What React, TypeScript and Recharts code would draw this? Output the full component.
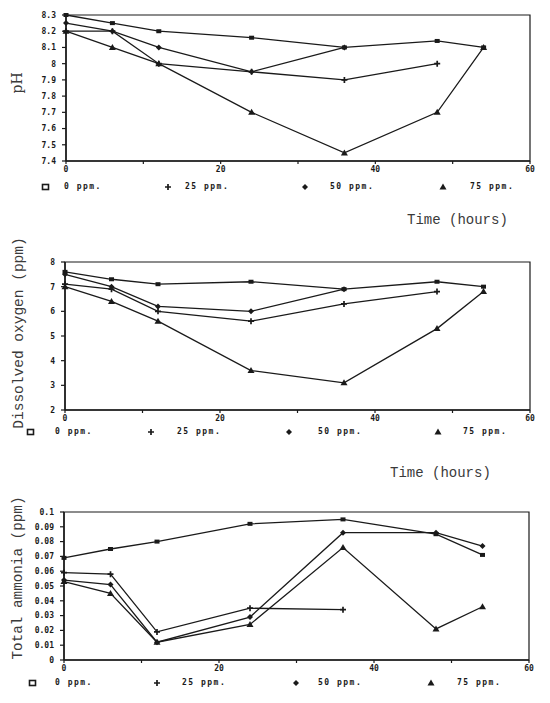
import { LineChart, Line, XAxis, YAxis, ReferenceArea, Legend } from 'recharts';

const HOURS = [0, 6, 12, 24, 36, 48, 54];
const SERIES_NAMES = ['0 ppm.', '25 ppm.', '50 ppm.', '75 ppm.'];
const X_TICKS = [0, 10, 20, 30, 40, 50, 60];

// pH
const PH_0 = [8.3, 8.25, 8.2, 8.16, 8.1, 8.14, 8.1];
const PH_25 = [8.2, 8.2, 8.0, 7.95, 7.9, 8.0, null];
const PH_50 = [8.25, 8.2, 8.1, 7.95, 8.1, null, null];
const PH_75 = [8.2, 8.1, 8.0, 7.7, 7.45, 7.7, 8.1];
const PH_TICKS = [7.4, 7.5, 7.6, 7.7, 7.8, 7.9, 8.0, 8.1, 8.2, 8.3];

// dissolved oxygen
const DO_0 = [7.6, 7.3, 7.1, 7.2, 6.9, 7.2, 7.0];
const DO_25 = [7.1, 6.9, 6.0, 5.6, 6.3, 6.8, null];
const DO_50 = [7.5, 7.0, 6.2, 6.0, 6.9, null, null];
const DO_75 = [7.0, 6.4, 5.6, 3.6, 3.1, 5.3, 6.8];
const DO_TICKS = [2, 3, 4, 5, 6, 7, 8];

// total ammonia
const AM_0 = [0.069, 0.075, 0.08, 0.092, 0.095, 0.085, 0.071];
const AM_25 = [0.059, 0.058, 0.019, 0.035, 0.034, null, null];
const AM_50 = [0.054, 0.051, 0.012, 0.029, 0.086, 0.086, 0.077];
const AM_75 = [0.053, 0.045, 0.012, 0.024, 0.076, 0.021, 0.036];
const AM_TICKS = [0, 0.01, 0.02, 0.03, 0.04, 0.05, 0.06, 0.07, 0.08, 0.09, 0.1];

const TICK_FONT = "'DejaVu Sans Mono', monospace";
const TITLE_FONT = "'Liberation Mono', monospace";
const INK = '#1a1a1a';

const buildRows = (s0, s25, s50, s75) =>
  HOURS.map((t, i) => ({ t, s0: s0[i], s25: s25[i], s50: s50[i], s75: s75[i] }));

const Marker = ({ shape, x, y }) => {
  if (shape === 'square') return <rect x={x - 2.5} y={y - 2} width={5} height={4} fill={INK} />;
  if (shape === 'plus')
    return <path d={`M${x - 3},${y}H${x + 3}M${x},${y - 3}V${y + 3}`} stroke={INK} strokeWidth={1.7} />;
  if (shape === 'diamond')
    return <polygon points={`${x},${y - 3} ${x + 3},${y} ${x},${y + 3} ${x - 3},${y}`} fill={INK} />;
  return <polygon points={`${x},${y - 3.5} ${x + 3.5},${y + 2.5} ${x - 3.5},${y + 2.5}`} fill={INK} />;
};

const makeDot = (shape) => (props) => {
  const { cx, cy, index } = props;
  if (cx == null || cy == null) return <g key={`e-${index}`} />;
  return (
    <g key={`${shape}-${index}`}>
      <Marker shape={shape} x={cx} y={cy} />
    </g>
  );
};

const SHAPES = ['square', 'plus', 'diamond', 'triangle'];
const KEYS = ['s0', 's25', 's50', 's75'];

const LegendRow = ({ markerX, textX }) => (
  <div style={{ position: 'relative', width: 550, height: 16 }}>
    {SERIES_NAMES.map((name, i) => (
      <div key={name}>
        <svg
          width={10}
          height={10}
          style={{ position: 'absolute', left: markerX[i] - 5, top: 3 }}
        >
          {i === 0 ? (
            <rect x={1.5} y={2.5} width={6} height={5} fill="none" stroke={INK} strokeWidth={1.6} />
          ) : (
            <Marker shape={SHAPES[i]} x={5} y={5} />
          )}
        </svg>
        <span
          style={{
            position: 'absolute',
            left: textX[i],
            top: 2,
            fontFamily: TICK_FONT,
            fontSize: 8,
            fontWeight: 'bold',
            letterSpacing: 1.5,
            lineHeight: '12px',
            color: INK,
            whiteSpace: 'nowrap',
          }}
        >
          {name}
        </span>
      </div>
    ))}
  </div>
);

const Panel = ({
  top,
  rows,
  domain,
  ticks,
  format,
  marginTop,
  plotHeight,
  axisHeight,
  left,
  right,
  markerX,
  textX,
}) => {
  const tickStyle = { fontFamily: TICK_FONT, fontSize: 8, fontWeight: 'bold', fill: INK };
  return (
    <div style={{ position: 'absolute', left: 0, top }}>
      <LineChart
        width={550}
        height={marginTop + plotHeight + axisHeight + 16}
        data={rows}
        margin={{ top: marginTop, right, bottom: 0, left: 0 }}
      >
        <XAxis
          dataKey="t"
          type="number"
          domain={[0, 60]}
          ticks={X_TICKS}
          interval={0}
          tickFormatter={(v) => (v % 20 === 0 ? String(v) : '')}
          height={axisHeight}
          tickSize={3}
          tickMargin={2}
          tick={tickStyle}
          axisLine={{ stroke: INK, strokeWidth: 1.5 }}
          tickLine={{ stroke: INK, strokeWidth: 1.2 }}
        />
        <YAxis
          type="number"
          domain={domain}
          ticks={ticks}
          interval={0}
          tickFormatter={format}
          width={left}
          tickSize={4}
          tickMargin={6}
          tick={tickStyle}
          axisLine={{ stroke: INK, strokeWidth: 1.5 }}
          tickLine={{ stroke: INK, strokeWidth: 1.2 }}
        />
        <ReferenceArea
          x1={0}
          x2={60}
          y1={domain[0]}
          y2={domain[1]}
          fill="none"
          stroke={INK}
          strokeWidth={1.2}
          ifOverflow="visible"
        />
        {KEYS.map((k, i) => (
          <Line
            key={k}
            dataKey={k}
            name={SERIES_NAMES[i]}
            stroke={INK}
            strokeWidth={1.3}
            dot={makeDot(SHAPES[i])}
            activeDot={false}
            isAnimationActive={false}
          />
        ))}
        <Legend
          verticalAlign="bottom"
          align="left"
          height={16}
          wrapperStyle={{ left: 0, width: 550 }}
          content={() => <LegendRow markerX={markerX} textX={textX} />}
        />
      </LineChart>
    </div>
  );
};

const RotTitle = ({ text, x, y, font, size }) => (
  <div
    style={{
      position: 'absolute',
      left: x,
      top: y,
      transform: 'translate(-50%, -50%) rotate(-90deg)',
      fontFamily: font,
      fontSize: size,
      color: '#3a3a3a',
      whiteSpace: 'nowrap',
      lineHeight: 1,
    }}
  >
    {text}
  </div>
);

const TimeTitle = ({ x, y }) => (
  <div
    style={{
      position: 'absolute',
      left: x,
      top: y,
      transform: 'translateY(-50%)',
      fontFamily: TITLE_FONT,
      fontSize: 14,
      color: '#3a3a3a',
      whiteSpace: 'nowrap',
      lineHeight: 1,
    }}
  >
    Time (hours)
  </div>
);

const fmtPh = (v) => (Math.abs(v - 8) < 1e-9 ? '8' : v.toFixed(1));
const fmtDo = (v) => String(v);
const fmtAm = (v) => (v === 0 ? '0' : Math.abs(v - 0.1) < 1e-9 ? '0.1' : v.toFixed(2));

export default function App() {
  return (
    <div
      style={{
        position: 'fixed',
        left: 0,
        top: 0,
        width: 550,
        height: 703,
        background: '#fff',
        overflow: 'hidden',
      }}
    >
      <Panel
        top={0}
        rows={buildRows(PH_0, PH_25, PH_50, PH_75)}
        domain={[7.4, 8.3]}
        ticks={PH_TICKS}
        format={fmtPh}
        marginTop={15}
        plotHeight={146}
        axisHeight={18}
        left={66}
        right={20}
        markerX={[46, 168, 305, 443]}
        textX={[64, 185, 330, 470]}
      />
      <RotTitle text="pH" x={17} y={83} font="'DejaVu Serif', serif" size={14} />
      <TimeTitle x={407} y={220} />

      <Panel
        top={230}
        rows={buildRows(DO_0, DO_25, DO_50, DO_75)}
        domain={[2, 8]}
        ticks={DO_TICKS}
        format={fmtDo}
        marginTop={32}
        plotHeight={148}
        axisHeight={14}
        left={65}
        right={20}
        markerX={[31, 151, 289, 438]}
        textX={[55, 177, 318, 463]}
      />
      <RotTitle text="Dissolved oxygen (ppm)" x={19} y={333} font={TITLE_FONT} size={14.5} />
      <TimeTitle x={390} y={473} />

      <Panel
        top={480}
        rows={buildRows(AM_0, AM_25, AM_50, AM_75)}
        domain={[0, 0.1]}
        ticks={AM_TICKS}
        format={fmtAm}
        marginTop={32}
        plotHeight={148}
        axisHeight={15}
        left={64}
        right={21}
        markerX={[33, 157, 296, 431]}
        textX={[55, 182, 318, 457]}
      />
      <RotTitle text="Total ammonia (ppm)" x={18} y={578} font={TITLE_FONT} size={14.3} />
    </div>
  );
}
